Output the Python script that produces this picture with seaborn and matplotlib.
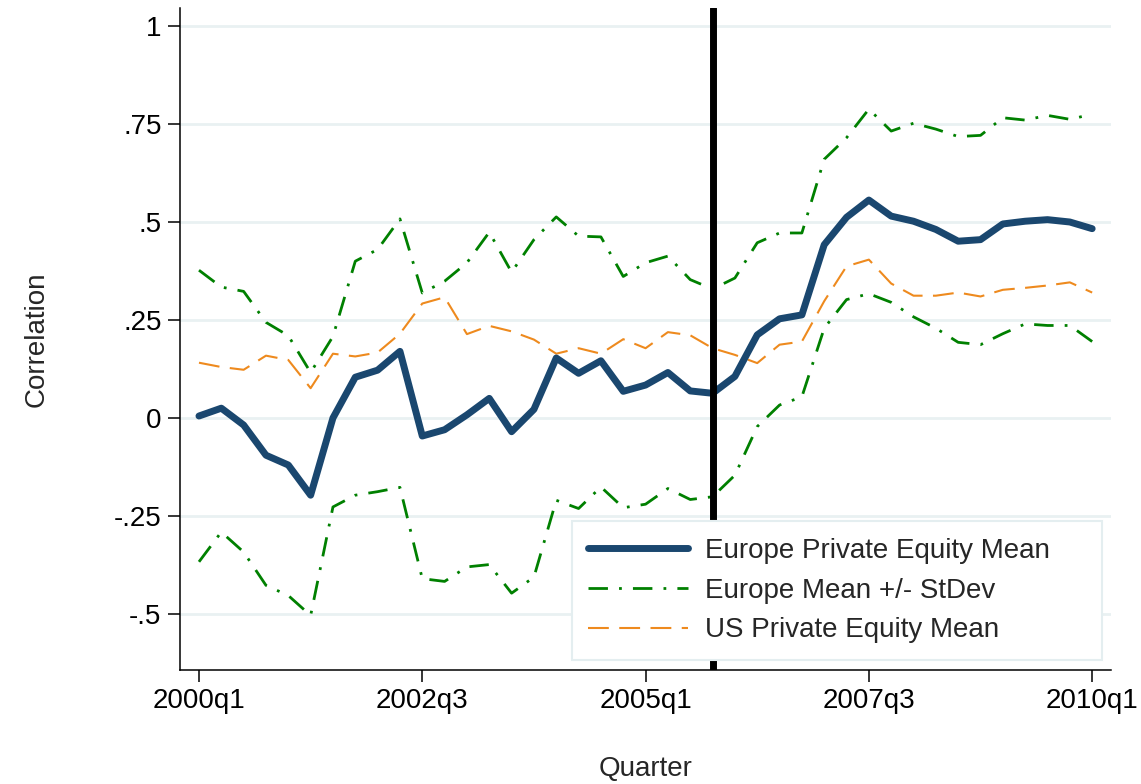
import numpy as np
import pandas as pd
import matplotlib
matplotlib.use("Agg")
import matplotlib.pyplot as plt
import seaborn as sns

# ---- data ----
quarters = [f"{y}q{q}" for y in range(2000, 2011) for q in range(1, 5)][:41]
europe_mean = [0.005, 0.025, -0.018, -0.095, -0.120, -0.197, 0.000, 0.104, 0.122, 0.170,
               -0.046, -0.030, 0.008, 0.050, -0.035, 0.022, 0.153, 0.114, 0.146, 0.068,
               0.084, 0.116, 0.069, 0.063, 0.106, 0.212, 0.253, 0.263, 0.442, 0.512,
               0.556, 0.515, 0.502, 0.481, 0.451, 0.455, 0.495, 0.502, 0.506, 0.500,
               0.483]
europe_upper = [0.377, 0.334, 0.323, 0.244, 0.210, 0.116, 0.208, 0.400, 0.430, 0.508,
                0.319, 0.349, 0.396, 0.474, 0.372, 0.455, 0.513, 0.464, 0.462, 0.361,
                0.396, 0.413, 0.353, 0.329, 0.357, 0.447, 0.472, 0.472, 0.660, 0.715,
                0.788, 0.732, 0.752, 0.737, 0.718, 0.721, 0.766, 0.760, 0.772, 0.762,
                0.775]
europe_lower = [-0.367, -0.291, -0.342, -0.427, -0.453, -0.504, -0.227, -0.197, -0.188, -0.177,
                -0.410, -0.417, -0.380, -0.374, -0.447, -0.406, -0.210, -0.231, -0.176, -0.229,
                -0.220, -0.180, -0.208, -0.201, -0.146, -0.022, 0.033, 0.054, 0.229, 0.302,
                0.317, 0.295, 0.258, 0.229, 0.193, 0.187, 0.215, 0.240, 0.236, 0.236,
                0.195]
us_mean = [0.141, 0.130, 0.123, 0.159, 0.148, 0.076, 0.164, 0.157, 0.167, 0.215,
           0.292, 0.308, 0.214, 0.235, 0.221, 0.200, 0.164, 0.178, 0.164, 0.201,
           0.178, 0.219, 0.211, 0.178, 0.161, 0.140, 0.187, 0.195, 0.298, 0.387,
           0.404, 0.343, 0.312, 0.312, 0.320, 0.310, 0.327, 0.332, 0.338, 0.346,
           0.320]
xtick_labels = ["2000q1", "2002q3", "2005q1", "2007q3", "2010q1"]
ytick_values = [-0.5, -0.25, 0, 0.25, 0.5, 0.75, 1]
ytick_labels = ["-.5", "-.25", "0", ".25", ".5", ".75", "1"]
event_quarter = "2005q4"

df = pd.DataFrame({
    "t": np.arange(len(quarters)),
    "mean": europe_mean,
    "upper": europe_upper,
    "lower": europe_lower,
    "us": us_mean,
})

sns.set_theme(style="white")
plt.rcParams["font.family"] = ["Liberation Sans", "DejaVu Sans"]

fig = plt.figure(figsize=(11.41, 7.84), dpi=100)
ax = fig.add_axes([180 / 1141, 1 - 670 / 784, 930.7 / 1141, 662 / 784])

navy = "#1a476f"
green = "#008000"
orange = "#ee8a1e"

sns.lineplot(data=df, x="t", y="mean", ax=ax, color=navy, linewidth=5.0,
             label="Europe Private Equity Mean", zorder=4)
sns.lineplot(data=df, x="t", y="upper", ax=ax, color=green, linewidth=2.0,
             label="Europe Mean +/- StDev", zorder=3, dashes=False)
sns.lineplot(data=df, x="t", y="lower", ax=ax, color=green, linewidth=2.0,
             label="_nolegend_", zorder=3, dashes=False)
sns.lineplot(data=df, x="t", y="us", ax=ax, color=orange, linewidth=1.5,
             label="US Private Equity Mean", zorder=3, dashes=False)

lines = ax.get_lines()
lines[1].set_dashes([7, 4, 1, 4])
lines[2].set_dashes([7, 4, 1, 4])
lines[3].set_dashes([10, 5])

ax.axvline(quarters.index(event_quarter), color="black", linewidth=5.0, zorder=5)

ax.set_xlim(-0.85, 40.83)
ax.set_ylim(-0.643, 1.046)
tick_pos = [quarters.index(q) for q in xtick_labels]
ax.set_xticks(tick_pos)
ax.set_xticklabels(xtick_labels)
ax.set_yticks(ytick_values)
ax.set_yticklabels(ytick_labels)

ax.yaxis.grid(True, color="#e9f1f2", linewidth=2.0)
ax.xaxis.grid(False)
ax.set_axisbelow(True)

for s in ["top", "right"]:
    ax.spines[s].set_visible(False)
for s in ["left", "bottom"]:
    ax.spines[s].set_color("black")
    ax.spines[s].set_linewidth(1.1)

ax.tick_params(axis="both", which="major", direction="out", length=8.3, width=1.1,
               color="black", labelsize=20, labelcolor="black", pad=5,
               bottom=True, left=True)

ax.set_xlabel("Quarter", fontsize=20, labelpad=30)
ax.set_ylabel("Correlation", fontsize=20, labelpad=46)

leg = ax.legend(loc="lower left", bbox_to_anchor=(0.421, 0.015, 0.57, 0.207),
                mode="expand", fontsize=20, handlelength=3.6, handletextpad=0.6,
                borderpad=0.6, labelspacing=0.5, frameon=True, fancybox=False,
                borderaxespad=0)
leg.get_frame().set_edgecolor("#e4eef0")
leg.get_frame().set_linewidth(1.5)
leg.get_frame().set_facecolor("white")
leg.get_frame().set_alpha(1)
leg.set_zorder(10)

fig.savefig("out.png", dpi=100)
